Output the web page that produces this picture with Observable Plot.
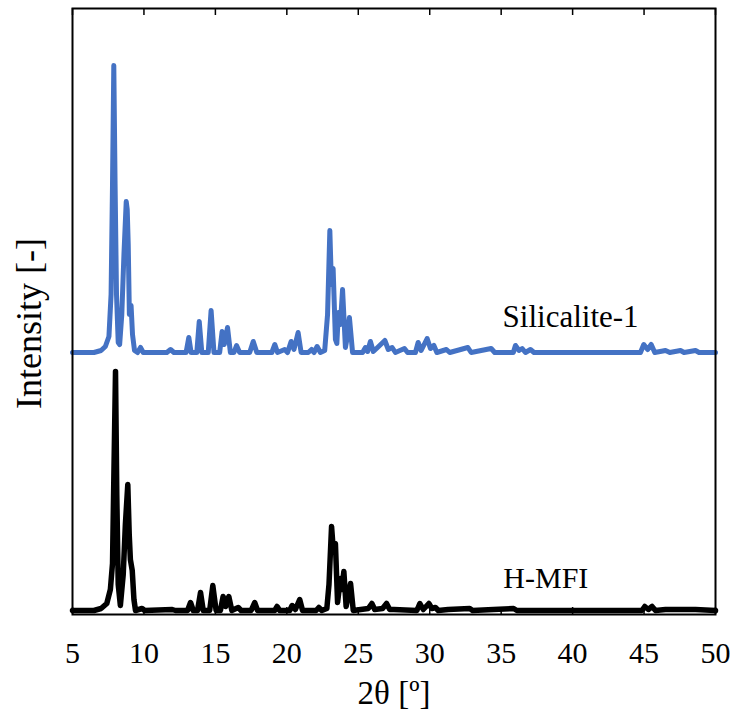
<!DOCTYPE html>
<html>
<head>
<meta charset="utf-8">
<script src="https://cdn.jsdelivr.net/npm/d3@7"></script>
<script src="https://cdn.jsdelivr.net/npm/@observablehq/plot@0.6"></script>
<style>
  html, body { margin: 0; padding: 0; background: #fff; }
  #chart svg, #chart svg text { font-family: "Liberation Serif", "DejaVu Serif", serif !important; }
</style>
</head>
<body>
<div id="chart"></div>
<script>
// 2θ positions and (offset, arbitrary-unit) intensities
const silicaliteTheta = [5.0,6.5,7.0,7.3,7.55,7.7,7.8,7.89,7.98,8.08,8.2,8.3,8.45,8.6,8.76,8.83,8.9,8.98,9.1,9.2,9.34,9.55,9.76,9.95,11.6,11.86,12.1,12.95,13.14,13.3,13.7,13.87,14.05,14.5,14.7,14.9,15.3,15.47,15.62,15.85,16.05,16.3,16.48,16.7,17.4,17.65,17.9,18.95,19.16,19.35,19.85,20.05,20.3,20.5,20.79,21.0,21.5,21.73,21.9,22.12,22.35,22.65,22.85,23.01,23.12,23.24,23.4,23.5,23.61,23.75,23.9,24.1,24.2,24.38,24.6,25.3,25.5,25.65,25.85,26.05,26.35,26.86,27.1,27.37,27.6,28.23,28.45,29.0,29.19,29.4,29.82,30.05,30.29,30.5,31.17,31.4,32.67,32.9,34.3,34.55,35.85,36.0,36.25,36.47,36.7,37.05,37.3,44.75,44.98,45.25,45.5,45.75,46.5,46.8,47.55,47.8,48.6,48.85,50.0];
const silicaliteIntensity = [262,262,264,268,278,320,430,549,430,320,272,270,300,360,413,405,370,300,309,280,264,262,267,262,262,265,262,262,277,262,262,293,262,262,304,262,262,283,270,287,262,262,269,262,262,273,262,262,270,262,265,262,273,265,282,262,262,265,262,268,262,264,300,384,330,346,275,271,302,290,325,267,275,297,262,262,267,263,273,263,267,274,265,267,262,266,262,262,272,264,276,266,269,262,265,262,267,262,266,262,262,269,264,266,262,265,262,262,270,265,270,262,264,262,264,262,264,262,262];

const hmfiTheta = [5.0,6.5,7.0,7.4,7.65,7.8,8.01,8.1,8.2,8.35,8.55,8.7,8.87,8.97,9.05,9.18,9.3,9.41,9.87,10.05,11.98,12.2,13.05,13.26,13.45,13.75,13.96,14.15,14.6,14.82,15.05,15.35,15.54,15.72,15.94,16.15,16.6,16.8,17.5,17.75,17.95,19.15,19.32,19.5,20.2,20.37,20.6,20.9,21.1,22.05,22.24,22.45,22.8,22.95,23.13,23.25,23.4,23.55,23.75,23.85,23.99,24.15,24.46,24.65,25.7,25.95,26.15,26.7,26.98,27.2,27.49,29.1,29.31,29.55,29.94,30.15,30.4,30.6,31.29,32.8,33.0,34.46,35.87,36.1,37.4,44.85,45.05,45.3,45.56,45.8,46.5,47.5,48.6,50.0];
const hmfiIntensity = [4,4,6,11,25,51,243,120,30,9,40,90,130,80,55,44,15,4,6,4,5,4,4,12,4,4,22,4,4,29,4,4,18,8,18,4,7,4,4,12,4,4,8,4,4,9,5,15,4,4,7,4,6,30,88,65,71,12,36,25,43,8,31,4,6,11,5,6,11,5,5,4,11,5,11,6,7,4,5,6,4,5,6,4,4,4,8,5,8,4,5,5,5,4];

const xTicks = [5,10,15,20,25,30,35,40,45,50];
const seriesNames = ["Silicalite-1", "H-MFI"];
const seriesLabelTheta = [35.1, 35.15];
const seriesLabelIntensity = [288, 27];
const seriesLabelSize = [31, 30];
const seriesColors = ["#4472C4", "#000000"];

const silicalite = silicaliteTheta.map((t, i) => ({theta: t, intensity: silicaliteIntensity[i]}));
const hmfi = hmfiTheta.map((t, i) => ({theta: t, intensity: hmfiIntensity[i]}));
const labels = seriesNames.map((n, i) => ({name: n, theta: seriesLabelTheta[i], intensity: seriesLabelIntensity[i], size: seriesLabelSize[i]}));

const serif = "'Liberation Serif', 'DejaVu Serif', serif";
const chart = Plot.plot({
  width: 737,
  height: 714,
  marginLeft: 72,
  marginRight: 22,
  marginTop: 8,
  marginBottom: 100,
  style: {fontFamily: serif, background: "#fff", color: "#000"},
  x: {domain: [5, 50]},
  y: {domain: [0, 606], axis: null},
  marks: [
    Plot.line(silicalite, {x: "theta", y: "intensity", stroke: seriesColors[0], strokeWidth: 5, strokeLinejoin: "round", strokeLinecap: "round"}),
    Plot.line(hmfi, {x: "theta", y: "intensity", stroke: seriesColors[1], strokeWidth: 5.5, strokeLinejoin: "round", strokeLinecap: "round"}),
    Plot.frame({stroke: "#000", strokeWidth: 2}),
    Plot.ruleX(xTicks, {x: d => d, y1: 0, y2: 7, stroke: "#000", strokeWidth: 1.5}),
    Plot.ruleX(xTicks, {x: d => d, y1: 599, y2: 606, stroke: "#000", strokeWidth: 1.5}),
    Plot.axisX(xTicks, {anchor: "bottom", tickSize: 0, tickPadding: 27, fontSize: 30, fontFamily: serif, label: null}),
    Plot.text(["2θ [º]"], {frameAnchor: "bottom", dy: 89, lineAnchor: "bottom", textAnchor: "middle", fontSize: 33, fontFamily: serif}),
    Plot.text(["Intensity [-]"], {frameAnchor: "left", rotate: -90, dx: -43, dy: 12, textAnchor: "middle", lineAnchor: "middle", fontSize: 36, fontFamily: serif}),
    ...labels.map(l => Plot.text([l], {x: "theta", y: "intensity", text: "name", textAnchor: "start", lineAnchor: "bottom", fontSize: l.size, fontFamily: serif}))
  ]
});
document.getElementById("chart").appendChild(chart);
</script>
</body>
</html>
